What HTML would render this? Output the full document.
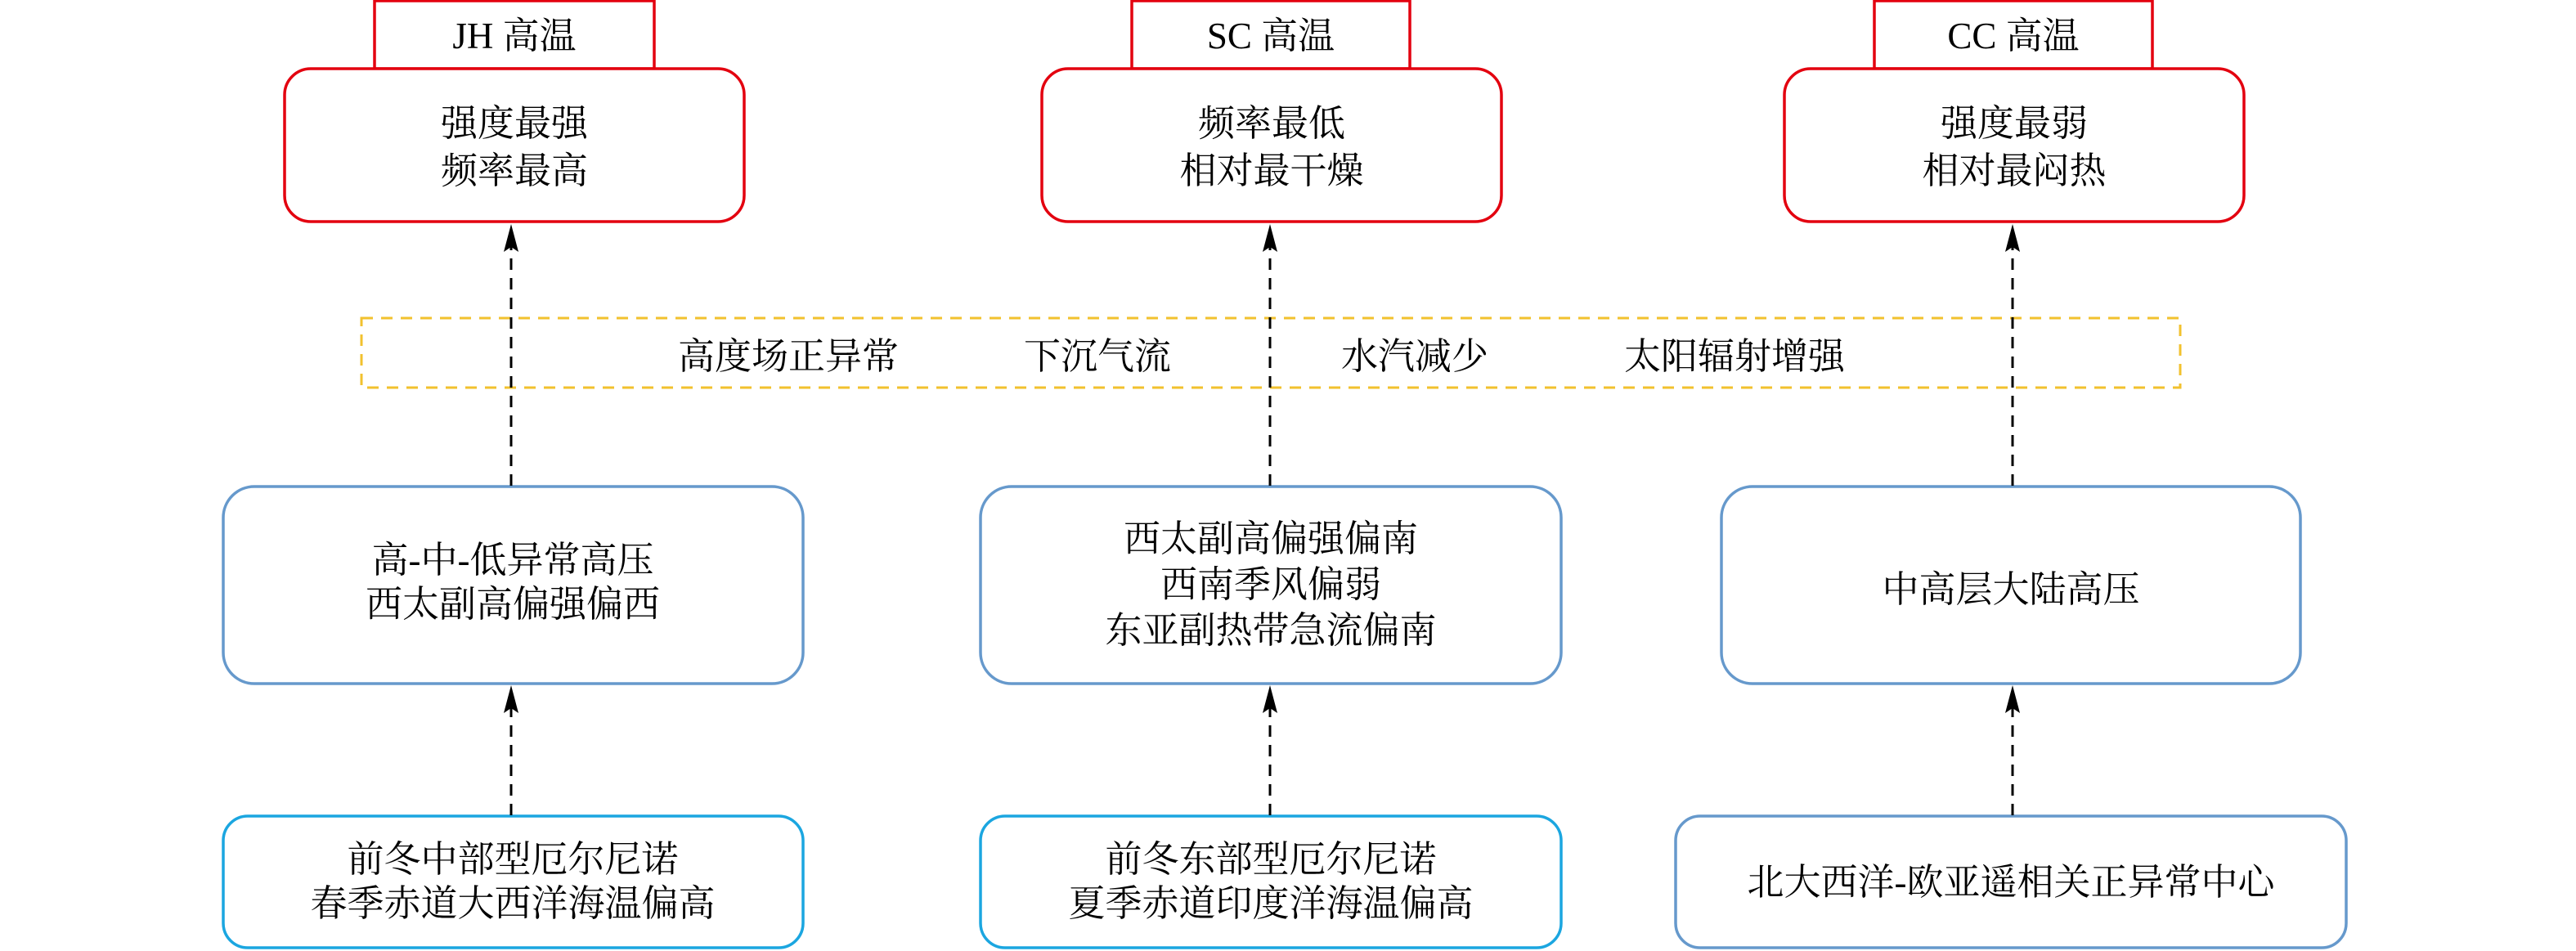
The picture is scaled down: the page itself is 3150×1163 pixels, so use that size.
<!DOCTYPE html>
<html><head><meta charset="utf-8"><style>
html,body{margin:0;padding:0;background:#fff;width:3150px;height:1163px;overflow:hidden}
svg text{font-family:"Liberation Serif","Noto Serif CJK SC","Noto Sans CJK SC",serif;font-size:45px;fill:#000;text-anchor:middle;dominant-baseline:central}
</style></head><body>
<svg width="3150" height="1163" viewBox="0 0 3150 1163" xmlns="http://www.w3.org/2000/svg">
<defs>
<marker id="ah" markerWidth="12" markerHeight="14" refX="6" refY="1" orient="auto-start-reverse" markerUnits="userSpaceOnUse" viewBox="0 0 12 14">
</marker>
</defs>
<g fill="#fff" stroke="#e3000f" stroke-width="3.5">
<rect x="458" y="1" width="342" height="83"/>
<rect x="1384" y="1" width="340" height="83"/>
<rect x="2292" y="1" width="340" height="83"/>
<rect x="348" y="84" width="562" height="187" rx="32"/>
<rect x="1274" y="84" width="562" height="187" rx="32"/>
<rect x="2182" y="84" width="562" height="187" rx="32"/>
</g>
<text x="629" y="44">JH 高温</text>
<text x="1554" y="44">SC 高温</text>
<text x="2462" y="44">CC 高温</text>
<text x="629" y="151">强度最强</text><text x="629" y="209">频率最高</text>
<text x="1555" y="151">频率最低</text><text x="1555" y="209">相对最干燥</text>
<text x="2463" y="151">强度最弱</text><text x="2463" y="209">相对最闷热</text>

<rect x="442" y="389" width="2224" height="85" fill="none" stroke="#f2c12e" stroke-width="3" stroke-dasharray="14,10"/>
<text x="964" y="436">高度场正异常</text>
<text x="1342" y="436">下沉气流</text>
<text x="1730" y="436">水汽减少</text>
<text x="2121" y="436">太阳辐射增强</text>

<g fill="#fff" stroke="#6699cc" stroke-width="3.5">
<rect x="273" y="595" width="709" height="241" rx="38"/>
<rect x="1199" y="595" width="710" height="241" rx="38"/>
<rect x="2105" y="595" width="708" height="241" rx="38"/>
<rect x="2049" y="998" width="820" height="161" rx="30"/>
</g>
<g fill="#fff" stroke="#1ba6e0" stroke-width="3.5">
<rect x="273" y="998" width="709" height="161" rx="30"/>
<rect x="1199" y="998" width="710" height="161" rx="30"/>
</g>
<text x="627" y="685">高-中-低异常高压</text><text x="627" y="739">西太副高偏强偏西</text>
<text x="1554" y="659">西太副高偏强偏南</text><text x="1554" y="715">西南季风偏弱</text><text x="1554" y="771">东亚副热带急流偏南</text>
<text x="2459" y="721">中高层大陆高压</text>
<text x="627" y="1051">前冬中部型厄尔尼诺</text><text x="627" y="1105">春季赤道大西洋海温偏高</text>
<text x="1554" y="1051">前冬东部型厄尔尼诺</text><text x="1554" y="1105">夏季赤道印度洋海温偏高</text>
<text x="2459" y="1079">北大西洋-欧亚遥相关正异常中心</text>

<g stroke="#000" stroke-width="3" stroke-dasharray="14,10" fill="none">
<line x1="625" y1="594" x2="625" y2="300"/>
<line x1="1553" y1="594" x2="1553" y2="300"/>
<line x1="2461" y1="594" x2="2461" y2="300"/>
<line x1="625" y1="997" x2="625" y2="865"/>
<line x1="1553" y1="997" x2="1553" y2="865"/>
<line x1="2461" y1="997" x2="2461" y2="865"/>
</g>
<g fill="#000">
<path d="M625 274 L634 308 L625 302 L616 308 Z"/>
<path d="M1553 274 L1562 308 L1553 302 L1544 308 Z"/>
<path d="M2461 274 L2470 308 L2461 302 L2452 308 Z"/>
<path d="M625 838 L634 872 L625 866 L616 872 Z"/>
<path d="M1553 838 L1562 872 L1553 866 L1544 872 Z"/>
<path d="M2461 838 L2470 872 L2461 866 L2452 872 Z"/>
</g>
</svg>
</body></html>
